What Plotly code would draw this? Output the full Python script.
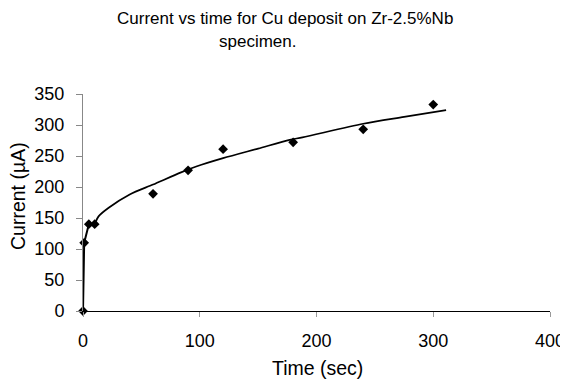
import plotly.graph_objects as go

# Measured data points
time_sec = [0, 1, 5, 10, 60, 90, 120, 180, 240, 300]
current_ua = [0, 110, 140, 140, 189, 227, 261, 272, 293, 333]

# Early connecting segment
early_time = [0, 1, 5, 10]
early_current = [0, 110, 140, 140]

# Smooth fitted curve
fit_time = [10, 13.5, 22, 40, 60, 84, 97, 120, 150, 177, 188, 240, 275, 311]
fit_current = [140, 153, 166.6, 188, 204, 223.6, 233, 246.5, 262, 276, 280, 302, 313, 324]

title_line1 = "Current vs time for Cu deposit on Zr-2.5%Nb"
title_line2 = "specimen."
x_title = "Time (sec)"
y_title = "Current (µA)"

FONT = "Liberation Sans, Arial, sans-serif"

# The page body has an 8px default margin; size the figure to fit the window.
OFF = 8
W, H = 568 - OFF, 384 - OFF
L, R, T, B = 83 - OFF, 18, 94 - OFF, 73
pw = W - L - R
ph = H - T - B

def px_x(px):
    return (px - OFF - L) / pw

def px_y(py):
    return (H - B - (py - OFF)) / ph

fig = go.Figure()
fig.add_trace(go.Scatter(x=early_time, y=early_current, mode="lines",
                         line=dict(color="black", width=2), cliponaxis=False,
                         hoverinfo="skip", showlegend=False))
fig.add_trace(go.Scatter(x=fit_time, y=fit_current, mode="lines",
                         line=dict(color="black", width=1.7, shape="spline", smoothing=0.8),
                         cliponaxis=False, showlegend=False))
fig.add_trace(go.Scatter(x=time_sec, y=current_ua, mode="markers",
                         marker=dict(symbol="diamond", size=7.5, color="black"),
                         cliponaxis=False, showlegend=False))

fig.update_layout(
    width=W, height=H,
    margin=dict(l=L, r=R, t=T, b=B, autoexpand=False),
    paper_bgcolor="white", plot_bgcolor="white",
    font=dict(family=FONT, color="black", size=18),
    xaxis=dict(range=[0, 400], tickvals=[0, 100, 200, 300, 400], showgrid=False,
               zeroline=False, showline=True, linecolor="black", linewidth=1,
               ticks="outside", ticklen=5, tickcolor="#999999",
               ticklabelstandoff=8, automargin=False,
               tickfont=dict(size=18)),
    yaxis=dict(range=[0, 350], tickvals=[0, 50, 100, 150, 200, 250, 300, 350], showgrid=False,
               zeroline=False, showline=True, linecolor="#888888", linewidth=1,
               ticks="outside", ticklen=6, tickcolor="#888888",
               ticklabelstandoff=8, automargin=False,
               tickfont=dict(size=18)),
    annotations=[
        dict(text=title_line1, x=px_x(285), y=px_y(18.5), xref="paper", yref="paper",
             showarrow=False, font=dict(size=17), xanchor="center", yanchor="middle"),
        dict(text=title_line2, x=px_x(257), y=px_y(42), xref="paper", yref="paper",
             showarrow=False, font=dict(size=17), xanchor="center", yanchor="middle"),
        dict(text=x_title, x=px_x(317), y=px_y(368), xref="paper", yref="paper",
             showarrow=False, font=dict(size=19.5), xanchor="center", yanchor="middle"),
        dict(text=y_title, x=px_x(18), y=px_y(196), xref="paper", yref="paper",
             showarrow=False, font=dict(size=19.5), xanchor="center", yanchor="middle",
             textangle=-90),
    ],
)

fig.write_html("out.html")
